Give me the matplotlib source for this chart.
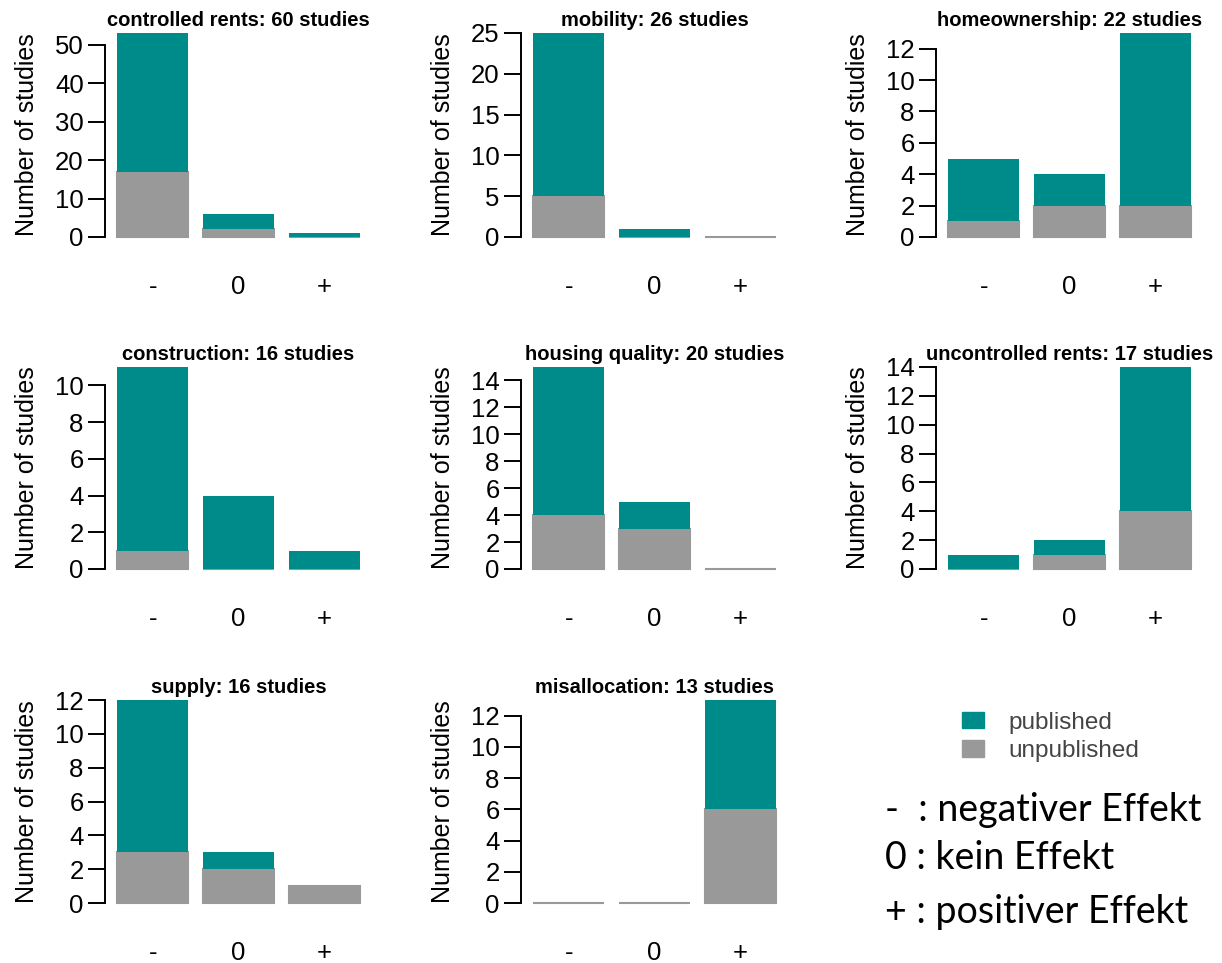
import numpy as np
import matplotlib.pyplot as plt
from matplotlib.patches import Patch

# studies per effect direction (-, 0, +)
titles = ["controlled rents: 60 studies", "mobility: 26 studies", "homeownership: 22 studies",
          "construction: 16 studies", "housing quality: 20 studies", "uncontrolled rents: 17 studies",
          "supply: 16 studies", "misallocation: 13 studies"]
effects = ["-", "0", "+"]
unpublished = [[17, 2, 0], [5, 0, 0], [1, 2, 2], [1, 0, 0],
               [4, 3, 0], [0, 1, 4], [3, 2, 1], [0, 0, 6]]
published = [[36, 4, 1], [20, 1, 0], [4, 2, 11], [10, 4, 1],
             [11, 2, 0], [1, 1, 10], [9, 1, 0], [0, 0, 7]]
tick_steps = [10, 5, 2, 2, 2, 2, 2, 2]
legend_labels = ["published", "unpublished"]
notes = ["-  : negativer Effekt", "0 : kein Effekt", "+ : positiver Effekt"]

teal = "#008B8B"
grey = "#999999"

plt.rcParams['font.family'] = 'Liberation Sans'

W, H = 1222, 963
fig = plt.figure(figsize=(W / 100, H / 100), dpi=100)

col_left = [117, 533, 948]
row_top = [33, 367, 700]
row_zero = [237, 569, 903]
panel_w = 243

x = np.array([0.7, 1.9, 3.1])
for i, title in enumerate(titles):
    r, c = divmod(i, 3)
    ax = fig.add_axes([col_left[c] / W, 1 - row_zero[r] / H,
                       panel_w / W, (row_zero[r] - row_top[r]) / H])
    unpub = np.array(unpublished[i])
    pub = np.array(published[i])
    total = unpub + pub
    ax.bar(x, unpub, width=1, color=grey, edgecolor=grey, linewidth=1.5, clip_on=False)
    ax.bar(x, pub, bottom=unpub, width=1, color=teal, linewidth=0)
    ymax = total.max()
    ax.set_xlim(0.2, 3.6)
    ax.set_ylim(0, ymax)
    ticks = np.arange(0, ymax + 0.01, tick_steps[i])
    ax.set_yticks(ticks)
    ax.spines[['top', 'right', 'bottom']].set_visible(False)
    ax.spines['left'].set_position(('outward', 9))
    ax.spines['left'].set_bounds(0, ticks[-1])
    ax.spines['left'].set_linewidth(1.4)
    ax.tick_params(axis='y', length=12, width=1.4, labelsize=18.5, pad=3)
    ax.set_xticks(x, effects)
    ax.tick_params(axis='x', length=0, labelsize=18.5, pad=27)
    ax.set_ylabel("Number of studies", fontsize=18)
    ax.yaxis.set_label_coords(-78 / panel_w, 0.5)
    ax.set_title(title, fontsize=14.5, fontweight='bold', pad=5)

handles = [Patch(color=teal), Patch(color=grey)]
leg = fig.legend(handles, legend_labels, loc='upper left', bbox_to_anchor=(940 / W, 1 - 690 / H),
                 frameon=False, fontsize=17.5, handlelength=0.9, handleheight=0.65,
                 handletextpad=1.0, labelspacing=0.25)
for t in leg.get_texts():
    t.set_color('#444444')

for j, note in enumerate(notes):
    fig.text(885 / W, 1 - [810, 858, 912][j] / H, note, fontsize=27, family='Lato', va='center')

plt.savefig('out.png')
